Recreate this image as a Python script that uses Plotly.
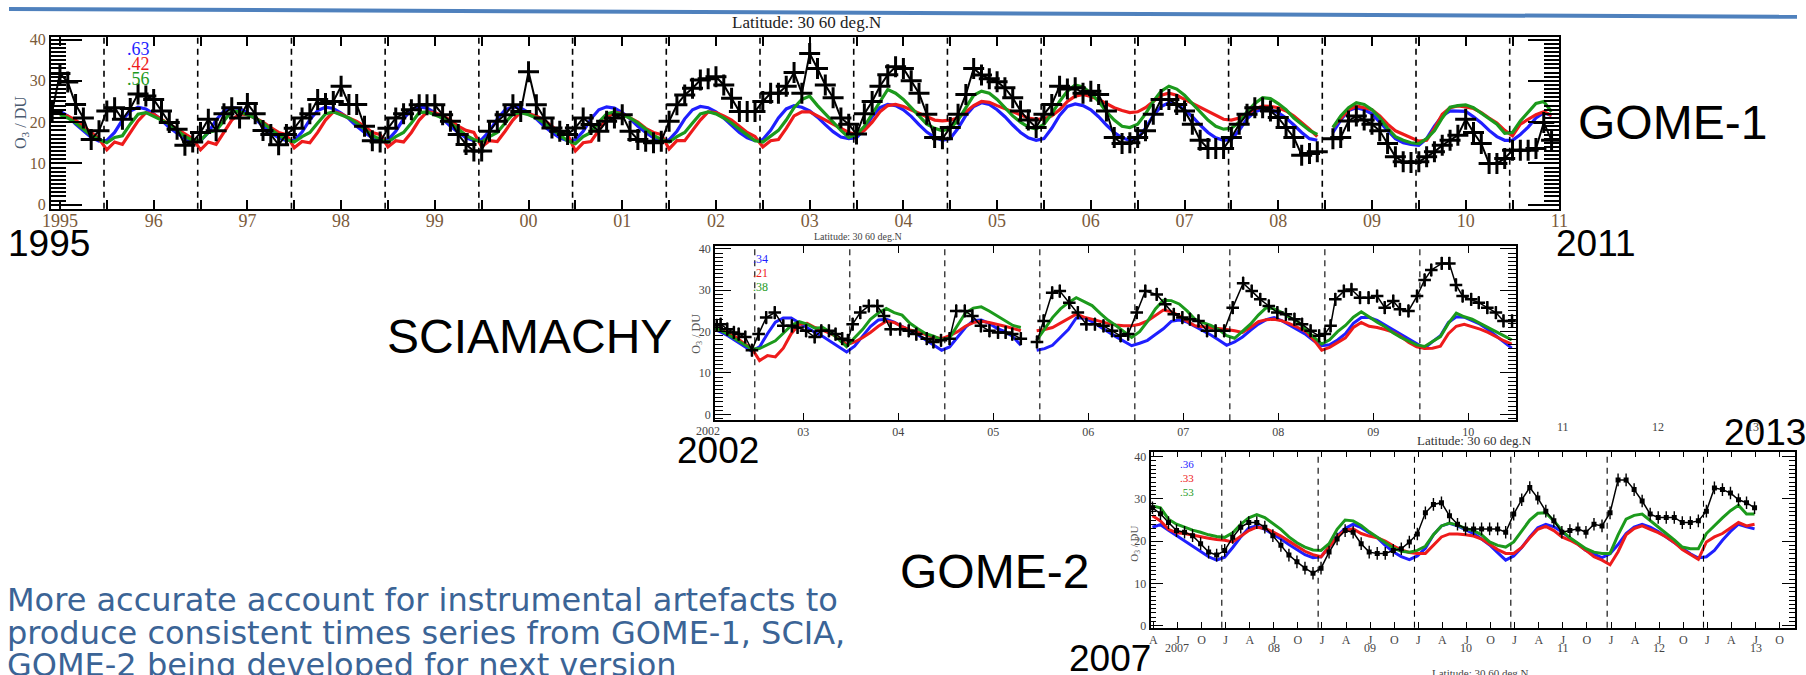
import plotly.graph_objects as go

W, H = 1806, 675

# ---------------- GOME-1 (1995-2011) ----------------
g1_year_ticks = list(range(1995, 2012))
g1_year_text = ["1995", "96", "97", "98", "99", "00", "01", "02", "03", "04",
                "05", "06", "07", "08", "09", "10", "11"]
g1_corr = {"blue": ".63", "red": ".42", "green": ".56"}

# observations, monthly from Dec 1994
g1_obs_start = 1994 + 11 / 12
g1_obs = [22.5,
    31.8, 29.7, 24.3, 21.0, 15.8, 17.9, 22.7, 23.5, 20.7, 23.3, 26.8, 26.3,
    25.5, 22.7, 19.9, 18.3, 14.4, 15.2, 17.5, 20.7, 17.9, 22.0, 23.5, 21.0,
    24.5, 22.0, 18.0, 17.0, 14.5, 17.0, 18.5, 21.0, 22.0, 25.5, 24.5, 25.0,
    28.7, 24.3, 24.3, 19.0, 15.5, 15.2, 18.5, 21.0, 22.0, 23.0, 24.2, 24.2,
    24.2, 21.8, 20.2, 17.0, 14.6, 13.0, 13.0, 17.8, 20.2, 21.8, 24.2, 22.6,
    32.2, 24.2, 21.0, 18.6, 17.8, 17.0, 18.6, 21.0, 19.4, 17.8, 20.2, 21.0,
    21.8, 17.8, 15.8, 15.4, 15.0, 15.4, 20.2, 24.2, 26.6, 28.2, 30.2, 30.5,
    31.0, 29.0, 25.8, 22.6, 22.6, 22.6, 25.0, 27.0, 27.0, 28.7, 32.0, 27.0,
    36.6, 33.0, 29.0, 25.9, 21.0, 19.5, 17.1, 22.0, 25.0, 28.7, 31.5, 33.4,
    33.0, 30.0, 27.0, 21.9, 16.3, 16.0, 18.7, 21.9, 26.7, 33.0, 31.4, 30.5,
    29.8, 28.3, 25.9, 22.7, 20.5, 18.7, 21.9, 24.3, 28.7, 28.0, 28.3, 27.0,
    27.5, 26.7, 22.7, 16.3, 14.8, 15.0, 16.3, 17.9, 21.9, 25.5, 25.5, 24.3,
    22.7, 19.5, 15.6, 13.6, 13.6, 13.6, 16.3, 19.5, 21.9, 23.5, 23.5, 22.7,
    21.1, 18.7, 16.3, 12.0, 12.4, 12.8, None, 16.0, 16.3, 20.3, 21.5, 20.5,
    19.5, 17.9, 14.8, 11.6, 10.4, 10.2, 10.4, 11.6, 12.8, 14.4, 15.6, 16.8,
    20.7, 17.5, 14.8, 10.0, 10.0, 11.2, 13.2, 13.2, 13.2, 13.6, 19.9, 15.6,
]

# model series, monthly from Jan 1995
g1_start = 1995.0
g1_blue = [
    22.7, 21.5, 19.5, 17.8, 16.3, 15.4, 15.6, 17.5, 20.5, 22.7, 23.6, 23.2,
    22.0, 20.5, 18.7, 17.3, 16.0, 15.3, 15.5, 17.5, 20.5, 22.7, 23.5, 23.3,
    22.3, 20.8, 19.0, 17.5, 16.2, 15.5, 15.6, 17.6, 20.6, 22.8, 23.6, 23.3,
    22.2, 20.8, 19.0, 17.5, 16.2, 15.5, 15.7, 17.8, 20.8, 23.0, 23.7, 23.4,
    22.3, 20.8, 19.0, 17.5, 16.2, 15.5, 15.8, 17.8, 20.8, 23.0, 23.7, 23.4,
    22.3, 20.8, 19.0, 17.5, 16.2, 15.5, 15.7, 17.8, 20.8, 23.0, 23.7, 23.4,
    22.3, 20.8, 19.0, 17.5, 16.2, 15.5, 15.7, 17.8, 20.8, 23.0, 23.8, 23.5,
    22.5, 21.0, 19.2, 17.5, 16.2, 15.5, 15.8, 18.0, 21.0, 23.2, 24.0, 23.6,
    22.7, 21.2, 19.4, 17.7, 16.4, 16.0, 16.2, 18.3, 21.3, 23.5, 24.3, 24.0,
    23.0, 21.4, 19.4, 17.6, 16.3, 15.6, 16.0, 18.5, 21.6, 23.8, 24.7, 24.3,
    23.0, 21.3, 19.3, 17.5, 16.2, 15.6, 16.0, 18.5, 21.6, 23.8, 24.4, 24.0,
    23.0, 21.3, 19.3, 17.5, 16.2, 15.6, 16.0, 18.5, 21.6, 23.8, 24.7, 24.3,
    23.0, 21.3, 19.3, 17.5, 16.2, 15.6, 15.8, 18.0, 20.8, 22.5, 23.1, 23.0,
    22.3, 21.0, 19.3, 17.5, 16.0, 15.6, None, 17.5, 20.5, 22.8, 23.5, 23.0,
    22.0, 20.0, 18.0, 16.0, 15.0, 14.6, 14.4, 16.0, 19.0, 21.5, 22.7, 22.7,
    22.6, 21.3, 19.8, 18.0, 16.5, 15.6, 15.6, 17.0, 18.8, 21.0, 22.3, 21.6,
]
g1_red = [
    21.9, 21.5, 20.5, 19.0, 17.5, 16.0, 13.3, 15.2, 14.6, 17.5, 20.3, 22.3,
    21.9, 20.7, 19.5, 18.3, 17.0, 16.0, 13.3, 15.2, 14.6, 17.5, 20.5, 22.0,
    21.8, 21.0, 20.0, 18.7, 17.5, 17.0, 13.8, 15.3, 15.0, 17.5, 20.5, 22.5,
    22.0, 21.0, 20.2, 19.0, 17.5, 17.0, 14.0, 15.5, 15.2, 17.5, 20.5, 22.5,
    22.3, 21.5, 20.5, 19.0, 18.0, 17.5, 14.0, 15.5, 15.3, 17.8, 20.5, 22.5,
    22.0, 21.5, 20.5, 19.0, 17.5, 17.0, 13.0, 15.0, 15.3, 18.0, 21.0, 22.5,
    22.0, 21.0, 20.0, 18.5, 17.5, 17.0, 13.5, 15.5, 15.5, 18.0, 20.5, 22.5,
    22.3, 21.5, 20.5, 19.0, 17.5, 16.5, 14.0, 15.5, 15.8, 18.5, 21.5, 22.5,
    22.5, 21.5, 20.5, 19.5, 18.5, 17.5, 17.0, 18.0, 20.0, 22.5, 24.0, 24.3,
    23.8, 23.0, 22.0, 21.2, 20.5, 20.3, 20.5, 21.0, 22.5, 24.0, 25.0, 24.8,
    24.0, 23.3, 22.5, 21.7, 21.0, 20.7, 20.8, 21.5, 23.0, 25.0, 26.3, 26.7,
    26.2, 25.5, 24.5, 23.5, 22.8, 22.3, 22.5, 23.5, 25.0, 26.5, 27.0, 26.5,
    25.5, 24.5, 23.5, 22.5, 21.5, 20.7, 20.5, 21.0, 22.0, 23.2, 23.9, 23.8,
    23.5, 22.7, 21.5, 20.0, 18.3, 16.5, None, 18.7, 21.0, 23.0, 23.9, 23.5,
    23.0, 21.5, 19.5, 17.9, 17.1, 16.2, 15.4, 15.6, 18.5, 21.9, 23.5, 23.9,
    23.7, 23.3, 22.3, 21.0, 19.8, 18.0, 16.7, 19.5, 20.7, 21.8, 22.5, 21.6,
]
g1_green = [
    21.8, 21.0, 19.8, 18.3, 16.8, 15.8, 15.0, 16.3, 16.7, 19.5, 21.9, 22.3,
    21.5, 20.5, 19.5, 18.0, 16.5, 15.6, 15.6, 17.5, 18.0, 20.3, 22.7, 22.5,
    21.8, 21.0, 19.8, 18.3, 16.8, 15.8, 15.2, 16.5, 17.5, 19.8, 22.0, 22.5,
    21.8, 21.0, 19.8, 18.3, 16.8, 15.8, 15.2, 16.5, 17.5, 19.8, 22.3, 22.5,
    21.8, 21.0, 19.8, 18.3, 16.8, 15.8, 15.2, 16.5, 17.5, 19.8, 22.0, 22.3,
    21.8, 21.0, 19.8, 18.3, 16.8, 15.5, 14.8, 16.5, 17.5, 20.0, 22.0, 22.5,
    21.8, 21.0, 19.8, 18.3, 16.8, 15.8, 15.2, 16.5, 17.5, 19.8, 22.0, 22.5,
    22.0, 21.0, 19.8, 18.3, 16.8, 15.5, 15.2, 16.5, 18.0, 20.5, 23.5, 25.5,
    26.3, 24.0, 22.0, 20.0, 18.0, 16.3, 17.0, 19.0, 22.0, 25.0, 27.9, 27.0,
    25.5, 23.5, 21.5, 19.5, 18.5, 17.9, 18.5, 20.5, 23.5, 26.5, 27.5, 27.0,
    25.5, 23.5, 21.5, 20.0, 18.8, 18.3, 19.5, 22.0, 25.0, 27.5, 29.0, 28.5,
    27.0, 25.0, 22.5, 20.5, 19.0, 18.7, 19.5, 22.0, 25.0, 27.5, 28.7, 28.0,
    26.5, 24.5, 22.5, 20.5, 19.0, 18.3, 18.5, 20.0, 22.5, 24.5, 25.9, 25.7,
    24.5, 23.0, 21.0, 19.5, 18.0, 17.0, None, 18.7, 21.5, 23.5, 24.7, 24.3,
    23.0, 21.0, 18.5, 16.5, 15.6, 15.0, 14.8, 16.0, 17.9, 21.0, 23.6, 24.0,
    24.2, 23.5, 22.2, 21.0, 19.5, 17.3, 17.5, 20.3, 22.5, 24.5, 25.0, 22.5,
]

# ---------------- SCIAMACHY (2002-2010.5) ----------------
sci_year_ticks = list(range(2003, 2011))
sci_year_text = ["03", "04", "05", "06", "07", "08", "09", "10"]
sci_first_text = "2002"
sci_extra_ticks = [2011, 2012, 2013]
sci_extra_text = ["11", "12", "13"]
sci_corr = {"blue": ".34", "red": ".21", "green": ".38"}

sci_obs_t = [2002.09, 2002.13, 2002.20, 2002.27, 2002.32, 2002.39, 2002.46, 2002.53,
             2002.61, 2002.70, 2002.79, 2002.88, 2002.94, 2003.03, 2003.12, 2003.19,
             2003.27, 2003.34, 2003.41, 2003.47, 2003.52, 2003.60, 2003.69, 2003.78,
             2003.85, 2003.92, 2004.02, 2004.11, 2004.19, 2004.30, 2004.37, 2004.45,
             2004.54, 2004.61, 2004.70, 2004.78, 2004.87, 2004.96, 2005.05, 2005.13,
             2005.20, 2005.29, 2005.38, 2005.46, 2005.53, 2005.62, 2005.70, 2005.80,
             2005.89, 2005.98, 2006.07, 2006.16, 2006.25, 2006.34, 2006.42, 2006.51,
             2006.60, 2006.72, 2006.81, 2006.90, 2006.99, 2007.07, 2007.16, 2007.25,
             2007.34, 2007.43, 2007.52, 2007.63, 2007.72, 2007.81, 2007.90, 2007.99,
             2008.08, 2008.17, 2008.25, 2008.34, 2008.43, 2008.49, 2008.55, 2008.60,
             2008.69, 2008.77, 2008.86, 2008.95, 2009.04, 2009.12, 2009.21, 2009.28,
             2009.37, 2009.46, 2009.54, 2009.61, 2009.72, 2009.80, 2009.87, 2009.94,
             2010.03, 2010.11, 2010.20, 2010.29, 2010.37, 2010.46]
sci_obs = [21.5, 21.8, 20.6, 19.8, 19.4, 18.7, 15.5, 19.4,
           23.4, 24.6, 21.4, 21.4, 21.0, 20.2, 18.7, 20.2,
           20.2, 19.4, 18.3, 17.9, 21.8, 24.6, 26.2, 26.2,
           23.8, 20.6, 20.6, 20.2, 19.4, 18.3, 17.5, 17.9,
           18.3, 25.0, 25.0, 23.8, 21.4, 20.2, 19.8, 19.8,
           19.4, 18.3, None, 17.5, 22.6, 29.4, 29.8, 27.0,
           24.6, 21.8, 21.8, 21.4, 20.2, 19.0, 19.4, 24.6,
           29.8, 29.0, 26.6, 24.2, 23.4, 23.0, 22.6, 20.2,
           20.2, 20.2, 25.8, 31.7, 29.8, 27.8, 26.2, 24.6,
           24.2, 23.0, 21.8, 20.2, 19.0, 19.4, 21.4, 27.8,
           29.8, 30.2, 28.2, 28.2, 28.6, 25.8, 27.4, 25.4,
           25.0, 28.6, 32.5, 34.9, 36.5, 36.5, 31.3, 28.6,
           27.8, 27.0, 25.8, 24.6, 22.6, 22.6]

# model series, monthly from 2002.04
sci_start = 2002.04
sci_blue = [
    20.8, 20.0, 19.0, 17.8, 16.5, 15.3, 16.3, 19.5, 22.3, 23.3, 23.3, 22.1,
    21.0, 19.8, 18.8, 17.5, 16.2, 15.1, 16.5, 18.8, 21.2, 22.8, 23.0, 22.3,
    21.3, 20.2, 19.2, 18.0, 16.7, 15.5, 16.3, 18.7, 21.0, 22.7, 22.8, 22.0,
    20.8, 20.0, 18.8, 16.7, None, 15.5, 15.9, 16.7, 18.5, 20.5, 23.3, 23.3,
    22.4, 21.3, 20.0, 18.8, 17.7, 16.6, 17.2, 17.9, 19.3, 20.7, 22.5, 22.8,
    22.3, 21.3, 20.3, 19.2, 18.0, 16.7, 17.5, 18.7, 20.3, 21.8, 22.9, 23.4,
    22.6, 21.5, 20.4, 19.3, 17.8, 16.6, 16.8, 18.0, 19.5, 22.0, 23.4, 23.4,
    22.7, 21.6, 20.5, 19.5, 18.4, 17.3, 16.0, 17.6, 19.0, 22.2, 23.6, 23.5,
    22.7, 21.8, 20.5, 19.0, 17.3, 16.0,
]
sci_red = [
    20.6, 20.6, 19.6, 18.7, 17.2, 16.0, 13.0, 14.2, 13.9, 16.0, 19.5, 21.8,
    22.0, 21.0, 20.3, 19.5, 18.5, 16.8, 17.5, 18.5, 19.8, 21.3, 22.5, 22.2,
    21.2, 20.4, 19.9, 19.3, 18.7, 18.3, 19.0, 20.0, 21.3, 22.2, 22.5, 22.2,
    21.8, 21.3, 20.8, 20.2, None, 20.2, 20.5, 21.0, 22.0, 23.2, 24.2, 23.5,
    23.0, 22.4, 22.0, 21.6, 21.4, 21.4, 21.8, 22.6, 23.8, 25.2, 24.8, 23.8,
    22.5, 21.4, 21.2, 21.0, 20.8, 20.5, 20.2, 19.8, 21.0, 22.4, 22.9, 23.0,
    22.6, 21.9, 21.0, 20.0, 18.0, 15.5, 16.2, 17.3, 18.5, 21.0, 22.2, 21.3,
    21.0, 20.5, 19.9, 18.8, 17.4, 16.3, 15.9, 16.0, 16.5, 19.5, 21.3, 21.8,
    21.2, 20.6, 19.8, 18.7, 17.8, 17.0,
]
sci_green = [
    21.0, 20.4, 19.3, 18.2, 17.0, 15.8, 15.9, 16.8, 17.8, 19.6, 21.5, 22.4,
    21.8, 20.8, 21.0, 19.8, 18.2, 16.4, 18.5, 20.5, 23.0, 24.5, 25.6, 24.6,
    24.0, 22.0, 20.7, 19.5, 18.9, 18.0, 18.5, 21.5, 24.5, 25.7, 26.0, 25.0,
    23.8, 22.5, 21.5, 21.0, None, 17.9, 20.5, 23.4, 25.5, 27.0, 28.2, 27.2,
    26.3, 24.5, 22.8, 21.5, 20.1, 18.6, 20.0, 22.5, 25.5, 27.6, 27.5, 26.7,
    25.0, 23.0, 22.2, 21.5, 20.5, 19.0, 18.4, 20.0, 21.8, 24.0, 25.8, 25.5,
    24.6, 23.4, 22.4, 20.4, 18.8, 17.0, 18.0, 20.0, 21.5, 23.5, 24.8, 23.5,
    22.3, 21.2, 19.7, 18.6, 17.6, 16.8, 16.4, 17.5, 18.8, 22.0, 24.5, 23.6,
    23.0, 22.0, 21.0, 20.2, 19.2, 18.0,
]

# ---------------- GOME-2 (2007-2013) ----------------
g2_month_cycle = ["J", "A", "J", "O"]
g2_year_ticks = [2007, 2008, 2009, 2010, 2011, 2012, 2013]
g2_year_text = ["2007", "08", "09", "10", "11", "12", "13"]
g2_corr = {"blue": ".36", "red": ".33", "green": ".53"}
g2_start = 2007.24
g2_obs = [27.9, 26.5, 24.4, 22.5, 22.1, 21.3, 19.4, 17.4, 16.7, 17.8,
          20.9, 23.3, 24.4, 24.4, 23.3, 21.3, 19.0, 16.7, 15.1, 13.6,
          12.4, 13.6, 17.4, 20.5, 22.5, 22.1, 19.4, 17.4, 17.1, 17.1,
          17.8, 18.2, 19.8, 21.7, 26.7, 28.7, 29.1, 26.0, 24.0, 22.9,
          22.9, 22.9, 22.9, 22.9, 22.1, 26.4, 29.8, 32.7, 30.2, 27.1,
          24.8, 22.1, 22.5, 22.9, 22.1, 24.0, 23.6, 26.7, 34.5, 34.5,
          32.2, 29.5, 26.4, 25.6, 25.6, 25.6, 24.4, 24.4, 24.8, 27.1,
          32.6, 32.2, 31.4, 29.8, 29.1, 27.9]
g2_blue = [23.3, 23.9, 22.6, 21.3, 20.0, 18.8, 17.4, 16.3, 15.5, 16.2,
           18.5, 21.0, 23.1, 23.6, 22.8, 21.7, 20.5, 19.2, 17.9, 16.8,
           16.1, 16.3, 18.6, 21.2, 23.0, 24.0, 23.2, 22.0, 20.8, 19.0,
           17.5, 16.3, 15.6, 16.5, 18.3, 21.5, 23.6, 24.2, 23.6, 22.7,
           21.8, 20.5, 19.1, 17.3, 15.5, 16.5, 18.5, 21.0, 23.2, 24.0,
           23.4, 22.2, 20.8, 19.2, 17.8, 16.9, 16.1, 17.0, 19.2, 21.8,
           23.3, 24.0, 23.3, 22.3, 21.0, 19.5, 18.2, 17.0, 16.0, 16.3,
           17.8, 20.2, 22.3, 24.0, 23.4, 22.9]
g2_red = [26.0, 24.8, 22.8, 22.0, 21.8, 21.4, 21.0, 20.7, 20.4, 20.2,
          19.8, 21.2, 22.5, 23.3, 23.0, 22.2, 21.2, 20.0, 18.8, 17.6,
          16.8, 16.3, 18.6, 21.0, 22.6, 22.9, 21.8, 21.2, 20.8, 20.0,
          18.9, 17.9, 17.3, 17.1, 17.1, 19.0, 21.0, 21.7, 21.7, 21.5,
          21.2, 20.5, 19.3, 18.0, 17.1, 17.1, 18.5, 20.8, 22.8, 23.5,
          22.5, 21.0, 20.2, 19.2, 17.8, 16.3, 15.5, 14.4, 17.5, 21.5,
          23.0, 23.6, 22.8, 22.0, 21.0, 19.7, 18.0, 16.8, 15.7, 19.8,
          21.0, 21.8, 23.0, 24.4, 23.6, 24.0]
g2_green = [28.3, 27.9, 25.2, 24.0, 23.3, 22.6, 22.1, 21.5, 21.1, 20.9,
            22.0, 24.0, 25.5, 26.3, 25.6, 24.3, 22.8, 21.0, 19.6, 18.6,
            17.9, 17.8, 19.4, 22.8, 25.0, 24.8, 23.7, 22.2, 21.0, 19.8,
            18.4, 17.6, 17.4, 17.8, 18.8, 21.5, 23.6, 24.3, 23.8, 23.0,
            22.5, 21.5, 19.8, 19.0, 18.6, 19.8, 22.5, 25.0, 26.6, 26.7,
            24.8, 22.5, 20.8, 19.6, 18.2, 17.4, 17.1, 17.1, 21.5, 25.2,
            26.1, 26.4, 24.8, 23.3, 21.8, 20.3, 18.6, 18.2, 18.2, 21.8,
            23.7, 25.5, 27.2, 28.5, 26.4, 26.4]

COL = {"blue": "#1f1fff", "red": "#ee1b1b", "green": "#1c9a1c"}
MODELS = ["blue", "red", "green"]


def monthly(start, n):
    return [start + i / 12 for i in range(n)]


def px(x):
    return x / W


def py(y):
    return 1 - y / H


fig = go.Figure()

# ---- GOME-1 traces ----
g1_t = monthly(g1_start, len(g1_blue))
for name, vals in zip(MODELS, [g1_blue, g1_red, g1_green]):
    fig.add_trace(go.Scatter(x=g1_t, y=vals, mode="lines", xaxis="x", yaxis="y",
                             line=dict(color=COL[name], width=3.2), hoverinfo="skip"))
fig.add_trace(go.Scatter(x=monthly(g1_obs_start, len(g1_obs)), y=g1_obs,
                         mode="lines+markers", xaxis="x", yaxis="y",
                         line=dict(color="black", width=2),
                         marker=dict(symbol="cross-thin", size=15,
                                     line=dict(color="black", width=3)),
                         hoverinfo="skip"))

# ---- SCIAMACHY traces ----
sci_t = monthly(sci_start, len(sci_blue))
for name, vals in zip(MODELS, [sci_blue, sci_red, sci_green]):
    fig.add_trace(go.Scatter(x=sci_t, y=vals, mode="lines", xaxis="x2", yaxis="y2",
                             line=dict(color=COL[name], width=3), hoverinfo="skip"))
fig.add_trace(go.Scatter(x=sci_obs_t, y=sci_obs, mode="lines+markers",
                         xaxis="x2", yaxis="y2",
                         line=dict(color="black", width=1.5),
                         marker=dict(symbol="cross-thin", size=9,
                                     line=dict(color="black", width=2.5)),
                         error_y=dict(type="constant", value=1.6, thickness=1.6,
                                      width=0, color="black"),
                         hoverinfo="skip"))

# ---- GOME-2 traces ----
g2_t = monthly(g2_start, len(g2_obs))
for name, vals in zip(MODELS, [g2_blue, g2_red, g2_green]):
    fig.add_trace(go.Scatter(x=g2_t, y=vals, mode="lines", xaxis="x3", yaxis="y3",
                             line=dict(color=COL[name], width=3), hoverinfo="skip"))
fig.add_trace(go.Scatter(x=g2_t, y=g2_obs, mode="lines+markers", xaxis="x3", yaxis="y3",
                         line=dict(color="black", width=1.5),
                         marker=dict(symbol="square", size=5, color="black"),
                         error_y=dict(type="constant", value=1.5, thickness=1.4,
                                      width=0, color="black"),
                         hoverinfo="skip"))

# ---------------- axes ----------------
base = dict(showline=True, linecolor="black", linewidth=1.5, mirror="allticks",
            ticks="inside", tickcolor="black", showgrid=False, zeroline=False,
            fixedrange=True)

g1_tickfont = dict(family="Liberation Serif", size=18, color="#7a5a3a")
sci_tickfont = dict(family="Liberation Serif", size=12, color="#444444")
g2_tickfont = dict(family="Liberation Serif", size=12, color="#444444")

g2_q_vals = [2007 + q / 4 for q in range(1, 28)]
g2_q_text = [g2_month_cycle[q % 4] for q in range(1, 28)]

fig.update_layout(
    width=W, height=H, margin=dict(l=0, r=0, t=0, b=0),
    paper_bgcolor="white", plot_bgcolor="white", showlegend=False,
    xaxis=dict(base, domain=[px(42), px(1566)], range=[1994.9, 2011.0], anchor="y",
               tickmode="array", tickvals=g1_year_ticks, ticktext=g1_year_text,
               ticklen=9, tickwidth=1.5, tickfont=g1_tickfont, ticklabelstandoff=-5,
               minor=dict(tickmode="array", tickvals=[y + 0.5 for y in range(1995, 2011)],
                          ticklen=9, tickwidth=1.5, ticks="inside", tickcolor="black")),
    yaxis=dict(base, domain=[py(206), py(32)], range=[-0.95, 40.5], anchor="x",
               tickmode="array", tickvals=[0, 10, 20, 30, 40],
               ticklen=32, tickwidth=1.5, tickfont=dict(g1_tickfont, size=16),
               minor=dict(dtick=1, ticklen=16, tickwidth=1.5, ticks="inside",
                          tickcolor="black")),
    xaxis2=dict(base, domain=[px(713), px(1522)], range=[2002.07, 2010.5], anchor="y2",
                tickmode="array", tickvals=sci_year_ticks, ticktext=sci_year_text,
                ticklen=7, tickwidth=1, tickfont=sci_tickfont),
    yaxis2=dict(base, domain=[py(421), py(244)], range=[-1.4, 40.7], anchor="x2",
                tickmode="array", tickvals=[0, 10, 20, 30, 40],
                ticklen=16, tickwidth=1.3, tickfont=sci_tickfont,
                minor=dict(dtick=1, ticklen=8, tickwidth=1.3, ticks="inside",
                           tickcolor="black")),
    xaxis3=dict(base, domain=[px(1153), px(1804)], range=[2007.22, 2013.91], anchor="y3",
                tickmode="array", tickvals=g2_q_vals, ticktext=g2_q_text,
                ticklen=6, tickwidth=1, tickfont=g2_tickfont),
    yaxis3=dict(base, domain=[py(632), py(453)], range=[-0.5, 41.2], anchor="x3",
                tickmode="array", tickvals=[0, 10, 20, 30, 40],
                ticklen=13, tickwidth=1.3, tickfont=g2_tickfont,
                minor=dict(dtick=1, ticklen=6, tickwidth=1.3, ticks="inside",
                           tickcolor="black")),
)

# ---------------- dashed year separators ----------------
shapes = []
for y in range(1995, 2011):
    shapes.append(dict(type="line", xref="x", yref="y domain", x0=y + 0.47, x1=y + 0.47,
                       y0=0, y1=1, line=dict(color="black", width=1.6, dash="6px,5px")))
for y in range(2002, 2010):
    shapes.append(dict(type="line", xref="x2", yref="y2 domain", x0=y + 0.49, x1=y + 0.49,
                       y0=0, y1=1, line=dict(color="black", width=1.1, dash="6px,5px")))
for y in range(2008, 2014):
    shapes.append(dict(type="line", xref="x3", yref="y3 domain", x0=y - 0.04, x1=y - 0.04,
                       y0=0, y1=1, line=dict(color="black", width=1.1, dash="6px,5px")))
# slide header rule
shapes.append(dict(type="line", xref="paper", yref="paper", x0=0, x1=1,
                   y0=py(3), y1=py(11), line=dict(color="#4f81bd", width=4)))
fig.update_layout(shapes=shapes)

# ---------------- annotations ----------------
ann = []


def text(x, y, s, size, color="black", family="Liberation Sans", xanchor="center",
         yanchor="middle", angle=0):
    ann.append(dict(x=px(x), y=py(y), xref="paper", yref="paper", text=s,
                    showarrow=False, xanchor=xanchor, yanchor=yanchor, textangle=angle,
                    font=dict(family=family, size=size, color=color)))


serif = "Liberation Serif"
# titles
text(806, 17, "Latitude: 30 60 deg.N", 17, "#222222", serif)
text(858, 234, "Latitude: 30 60 deg.N", 10, "#444444", serif)
text(1480, 442, "Latitude: 30 60 deg.N", 13, "#333333", serif)
text(1486, 678, "Latitude: 30 60 deg.N", 11, "#444444", serif)
# y titles
text(12, 118, "O<sub>3</sub> / DU", 16, "#4a5a70", serif, angle=-90)
text(694, 333, "O<sub>3</sub> / DU", 12, "#555555", serif, angle=-90)
text(1137, 547, "O<sub>3</sub> / DU", 11, "#555555", serif, angle=-90)
# correlation labels
for i, name in enumerate(MODELS):
    text(131, 44 + 15 * i, g1_corr[name], 18, COL[name], serif)
    text(759, 257 + 14.5 * i, sci_corr[name], 12, COL[name], serif)
    text(1190, 466 + 14 * i, g2_corr[name], 11, COL[name], serif)
# first SCIA tick label and labels beyond its frame (slide crop)
text(706, 432, sci_first_text, 12, "#444444", serif)
for v, s in zip(sci_extra_ticks, sci_extra_text):
    text(706 + 96 * (v - 2002), 428, s, 12, "#444444", serif)
# GOME-2 year labels (second row)
for v, s in zip(g2_year_ticks, g2_year_text):
    ann.append(dict(x=v + 0.5, y=py(662), xref="x3", yref="paper", text=s,
                    showarrow=False, font=g2_tickfont))
# big slide labels
text(40, 241, "1995", 37)
text(1603, 241, "2011", 37)
text(1680, 118, "GOME-1", 48)
text(526, 336, "SCIAMACHY", 48)
text(716, 452, "2002", 37)
text(995, 575, "GOME-2", 48)
text(1112, 663, "2007", 37)
text(1774, 434, "2013", 37)
# paragraph
para = ["More accurate account for instrumental artefacts to",
        "produce consistent times series from GOME-1, SCIA,",
        "GOME-2 being developed for next version"]
for i, line in enumerate(para):
    text(-4, 604 + 33 * i, line, 32, "#3b6496", family="DejaVu Sans", xanchor="left")

fig.update_layout(annotations=ann)
fig.write_html("out.html")
